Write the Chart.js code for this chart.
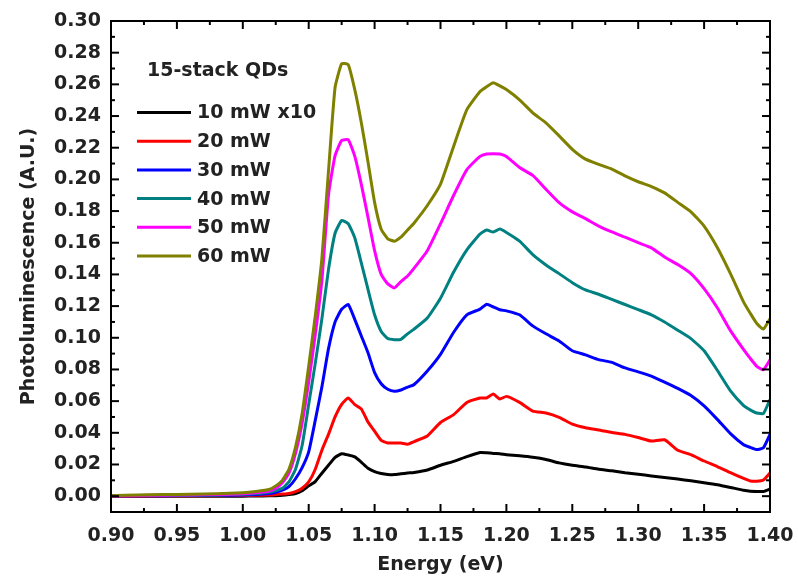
<!DOCTYPE html>
<html>
<head>
<meta charset="utf-8">
<script src="https://cdn.jsdelivr.net/npm/chart.js@4.4.1/dist/chart.umd.min.js"></script>
<style>
  html, body { margin: 0; padding: 0; background: #fff; }
  canvas { display: block; }
</style>
</head>
<body>
<canvas id="c" width="798" height="577"></canvas>
<script>
// ---- data ----
const energy = [0.90,0.92,0.94,0.96,0.98,1.00,1.01,1.02,
  1.025,1.03,1.035,1.04,1.045,1.05,1.055,1.06,1.065,1.07,1.075,1.08,1.085,1.09,1.095,1.10,1.105,1.11,1.115,1.12,1.125,1.13,
  1.14,1.15,1.16,1.17,1.18,1.185,1.19,1.195,1.20,
  1.21,1.22,1.23,1.24,1.25,1.26,1.27,1.28,1.29,1.30,1.31,1.32,1.33,1.34,1.35,1.36,1.37,1.38,
  1.385,1.39,1.395,1.40];

const seriesLabels = ['10 mW x10','20 mW','30 mW','40 mW','50 mW','60 mW'];

const pl10x10 = [0,0,0,0,0,0,0.0001,0.0002,
  0.0003,0.0005,0.001,0.0017,0.0035,0.0065,0.0092,0.0145,0.0195,0.0245,0.0268,0.026,0.0248,0.0214,0.0176,0.0155,0.0143,0.0137,0.0136,0.0141,0.0146,0.015,
  0.0165,0.0195,0.022,0.025,0.0276,0.0274,0.027,0.0268,0.0262,
  0.0255,0.0246,0.0232,0.021,0.0195,0.0184,0.017,0.016,0.0148,0.0138,0.0128,0.0118,0.0108,0.0097,0.0085,0.0072,0.0055,0.0037,
  0.0031,0.003,0.003,0.0045];

const pl20 = [0.0001,0.0001,0.0002,0.0002,0.0003,0.0004,0.0005,0.0007,
  0.001,0.0013,0.0017,0.0028,0.005,0.009,0.017,0.029,0.039,0.050,0.058,0.062,0.0578,0.055,0.0468,0.041,0.0352,0.0336,0.0336,0.0336,0.0328,0.0345,
  0.038,0.0465,0.0515,0.0592,0.062,0.062,0.0645,0.0613,0.063,
  0.0592,0.0537,0.0525,0.0498,0.0455,0.0432,0.0418,0.0402,0.039,0.037,0.0348,0.0356,0.029,0.0262,0.0222,0.0187,0.0148,0.0112,
  0.0096,0.0094,0.0102,0.0146];

const pl30 = [0.0002,0.0002,0.0003,0.0004,0.0005,0.0008,0.001,0.0016,
  0.0025,0.0038,0.006,0.011,0.018,0.028,0.048,0.069,0.093,0.110,0.118,0.121,0.1115,0.101,0.0905,0.078,0.071,0.0675,0.0662,0.067,0.0688,0.0705,
  0.079,0.0895,0.1035,0.1145,0.1181,0.1212,0.1195,0.1177,0.117,
  0.1145,0.1075,0.1025,0.098,0.0918,0.0892,0.0862,0.0845,0.081,0.0785,0.0758,0.072,0.068,0.0635,0.057,0.0485,0.0395,0.0325,
  0.0308,0.0294,0.0305,0.039];

const pl40 = [0.0003,0.0004,0.0005,0.0006,0.0008,0.0012,0.0017,0.0025,
  0.0035,0.005,0.009,0.017,0.032,0.058,0.084,0.112,0.143,0.166,0.174,0.172,0.163,0.147,0.1305,0.1145,0.104,0.0995,0.0988,0.099,0.1025,0.1055,
  0.1125,0.125,0.1415,0.1555,0.1655,0.168,0.1668,0.1686,0.1665,
  0.161,0.1525,0.146,0.1405,0.1348,0.1302,0.1275,0.1242,0.121,0.1178,0.1145,0.11,0.1048,0.0995,0.0918,0.0795,0.0665,0.0572,
  0.0545,0.0525,0.0522,0.061];

const pl50 = [0.0002,0.0004,0.0006,0.0008,0.001,0.0016,0.0022,0.0033,
  0.005,0.0085,0.0145,0.027,0.046,0.072,0.102,0.136,0.19,0.215,0.2245,0.225,0.2145,0.1965,0.176,0.155,0.140,0.134,0.1315,0.1355,0.139,0.144,
  0.155,0.172,0.190,0.2062,0.2145,0.216,0.2162,0.216,0.2145,
  0.2075,0.2025,0.1938,0.1853,0.1795,0.1752,0.1705,0.1668,0.1635,0.160,0.1568,0.151,0.1462,0.1405,0.131,0.119,0.1045,0.0925,
  0.087,0.082,0.0798,0.086];

const pl60 = [0.0003,0.0008,0.001,0.0012,0.0015,0.0022,0.003,0.0042,
  0.0065,0.010,0.017,0.031,0.052,0.082,0.114,0.150,0.205,0.258,0.273,0.2725,0.2565,0.2355,0.211,0.1855,0.1685,0.1625,0.161,0.1635,0.168,0.1725,
  0.1835,0.197,0.221,0.244,0.2555,0.2585,0.261,0.259,0.2567,
  0.2502,0.242,0.2357,0.2275,0.219,0.2128,0.2095,0.2065,0.2022,0.1985,0.1955,0.1915,0.1855,0.1795,0.1705,0.157,0.1405,0.1225,
  0.1155,0.109,0.1055,0.112];

const xTickValues = [0.90,0.95,1.00,1.05,1.10,1.15,1.20,1.25,1.30,1.35,1.40];
const yTickValues = [0.00,0.02,0.04,0.06,0.08,0.10,0.12,0.14,0.16,0.18,0.20,0.22,0.24,0.26,0.28,0.30];
const legendTitle = '15-stack QDs';

// ---- styling ----
const seriesValues = [pl10x10, pl20, pl30, pl40, pl50, pl60];
const colors = ['#000000','#ff0000','#0000ff','#008080','#ff00ff','#808000'];
const FONT = "'DejaVu Sans', Arial, sans-serif";

const datasets = seriesValues.map((vals, i) => ({
  label: seriesLabels[i],
  data: energy.map((e, k) => ({x: e, y: vals[k]})),
  borderColor: colors[i],
  backgroundColor: colors[i],
  borderWidth: 3,
  pointRadius: 0,
  tension: 0.15,
  fill: false,
  order: seriesValues.length - 1 - i
}));

const frameAndLegend = {
  id: 'frameAndLegend',
  afterDatasetsDraw(chart) {
    const {ctx, chartArea: a, scales: {x, y}} = chart;
    ctx.save();
    ctx.strokeStyle = '#000';
    ctx.lineWidth = 2;
    ctx.lineCap = 'butt';
    const seg = (x1, y1, x2, y2) => { ctx.beginPath(); ctx.moveTo(x1, y1); ctx.lineTo(x2, y2); ctx.stroke(); };
    xTickValues.forEach((v, i) => {
      const p = x.getPixelForValue(v);
      seg(p, a.bottom, p, a.bottom - 8); seg(p, a.top, p, a.top + 8);
      if (i < xTickValues.length - 1) {
        const m = x.getPixelForValue((v + xTickValues[i + 1]) / 2);
        seg(m, a.bottom, m, a.bottom - 4); seg(m, a.top, m, a.top + 4);
      }
    });
    yTickValues.forEach((v, i) => {
      const p = y.getPixelForValue(v);
      seg(a.left, p, a.left + 8, p); seg(a.right, p, a.right - 8, p);
      if (i < yTickValues.length - 1) {
        const m = y.getPixelForValue((v + yTickValues[i + 1]) / 2);
        seg(a.left, m, a.left + 4, m); seg(a.right, m, a.right - 4, m);
      }
    });
    ctx.strokeRect(a.left, a.top, a.right - a.left, a.bottom - a.top);

    // legend
    ctx.fillStyle = '#222';
    ctx.font = 'bold 19px ' + FONT;
    ctx.textBaseline = 'middle';
    ctx.textAlign = 'left';
    ctx.fillText(legendTitle, 147, 71);
    chart.data.datasets.forEach((ds, i) => {
      const yy = 112.5 + i * 28.7;
      ctx.strokeStyle = ds.borderColor;
      ctx.lineWidth = 3;
      seg(137, yy, 191, yy);
      ctx.fillStyle = '#222';
      ctx.fillText(ds.label, 197, yy + 1);
    });
    ctx.restore();
  }
};

new Chart(document.getElementById('c'), {
  type: 'line',
  data: { datasets },
  options: {
    responsive: false,
    animation: false,
    devicePixelRatio: 1,
    layout: { padding: { left: 0, right: 28, top: 21, bottom: 0 } },
    plugins: { legend: { display: false }, tooltip: { enabled: false } },
    scales: {
      x: {
        type: 'linear',
        min: 0.90, max: 1.40,
        grid: { display: false, drawTicks: false },
        border: { display: false },
        afterBuildTicks: s => { s.ticks = xTickValues.map(v => ({value: v})); },
        afterFit: s => { s.height = 65; s.paddingLeft = 0; s.paddingRight = 0; },
        ticks: {
          color: '#222', padding: 13, maxRotation: 0, autoSkip: false,
          font: { family: FONT, size: 19, weight: 'bold' },
          callback: v => Number(v).toFixed(2)
        },
        title: {
          display: true, text: 'Energy (eV)', color: '#222',
          font: { family: FONT, size: 19, weight: 'bold' },
          padding: { top: 0, bottom: 1 }
        }
      },
      y: {
        type: 'linear',
        min: -0.01, max: 0.30,
        grid: { display: false, drawTicks: false },
        border: { display: false },
        afterBuildTicks: s => { s.ticks = yTickValues.map(v => ({value: v})); },
        afterFit: s => { s.width = 111; s.paddingTop = 0; s.paddingBottom = 0; },
        ticks: {
          color: '#222', padding: 10, autoSkip: false,
          font: { family: FONT, size: 19, weight: 'bold' },
          callback: v => Number(v).toFixed(2)
        },
        title: {
          display: true, text: 'Photoluminescence (A.U.)', color: '#222',
          font: { family: FONT, size: 19, weight: 'bold' },
          padding: { top: 18, bottom: 0 }
        }
      }
    }
  },
  plugins: [frameAndLegend]
});
</script>
</body>
</html>
